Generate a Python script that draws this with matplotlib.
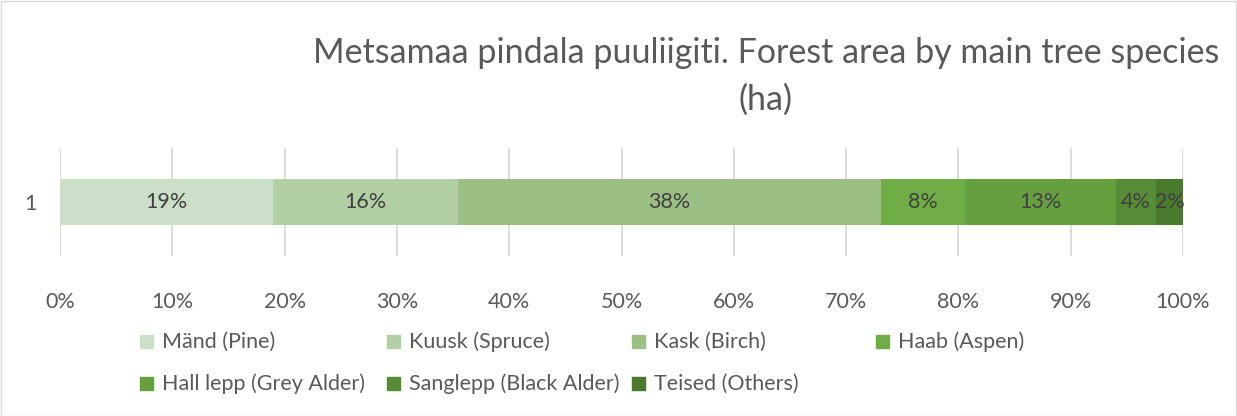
import matplotlib.pyplot as plt
from matplotlib.patches import Rectangle

plt.rcParams["font.family"] = ["Lato", "DejaVu Sans"]

species = ["Mänd (Pine)", "Kuusk (Spruce)", "Kask (Birch)", "Haab (Aspen)",
           "Hall lepp (Grey Alder)", "Sanglepp (Black Alder)", "Teised (Others)"]
shares = [19.0, 16.4, 37.7, 7.5, 13.4, 3.6, 2.4]
labels = ["19%", "16%", "38%", "8%", "13%", "4%", "2%"]
colors = ["#CCDFC8", "#B3CFA5", "#9BBF85", "#70AD47", "#659F3F", "#578C37", "#4A7A2E"]
xticks = [0, 10, 20, 30, 40, 50, 60, 70, 80, 90, 100]

W, H = 1237, 416
fig = plt.figure(figsize=(W / 100, H / 100), dpi=100)
ax = fig.add_axes([60 / W, 1 - 256 / H, (1183 - 60) / W, 108 / H])

total = sum(shares)
left = 0
for s, lab, c in zip(shares, labels, colors):
    w = s / total * 100
    ax.barh(0, w, left=left, height=0.42, color=c, zorder=2)
    ax.text(left + w / 2, 0, lab, ha="center", va="center",
            fontsize=15.5, color="#404040", zorder=3)
    left += w

ax.set_xlim(0, 100)
ax.set_ylim(-0.5, 0.5)
ax.set_xticks(xticks)
ax.set_xticklabels([f"{t}%" for t in xticks])
ax.set_yticks([0])
ax.set_yticklabels(["1"])
ax.grid(axis="x", color="#D9D9D9", linewidth=1.3, zorder=0)
for sp in ax.spines.values():
    sp.set_visible(False)
ax.tick_params(length=0, labelsize=15.5, labelcolor="#595959")
ax.tick_params(axis="x", pad=26)
ax.tick_params(axis="y", pad=17)

fig.text(766 / W, 1 - 53 / H, "Metsamaa pindala puuliigiti. Forest area by main tree species",
         ha="center", va="center", fontsize=24.5, color="#595959")
fig.text(766 / W, 1 - 100 / H, "(ha)", ha="center", va="center",
         fontsize=24.5, color="#595959")

# legend, 4 equal columns
col_x = [140, 387, 632, 876]
row_y = [342, 384]
for i, (name, c) in enumerate(zip(species, colors)):
    x = col_x[i % 4]
    y = row_y[i // 4]
    fig.patches.append(Rectangle((x / W, 1 - (y + 6) / H), 13 / W, 13 / H,
                                 transform=fig.transFigure, color=c))
    fig.text((x + 22) / W, 1 - y / H, name, ha="left", va="center",
             fontsize=15.5, color="#595959")

fig.patches.append(Rectangle((0.5 / W, 0.5 / H), (W - 1.5) / W, (H - 1.5) / H,
                             transform=fig.transFigure, fill=False,
                             edgecolor="#D9D9D9", linewidth=1))

fig.savefig("out.png", dpi=100)
